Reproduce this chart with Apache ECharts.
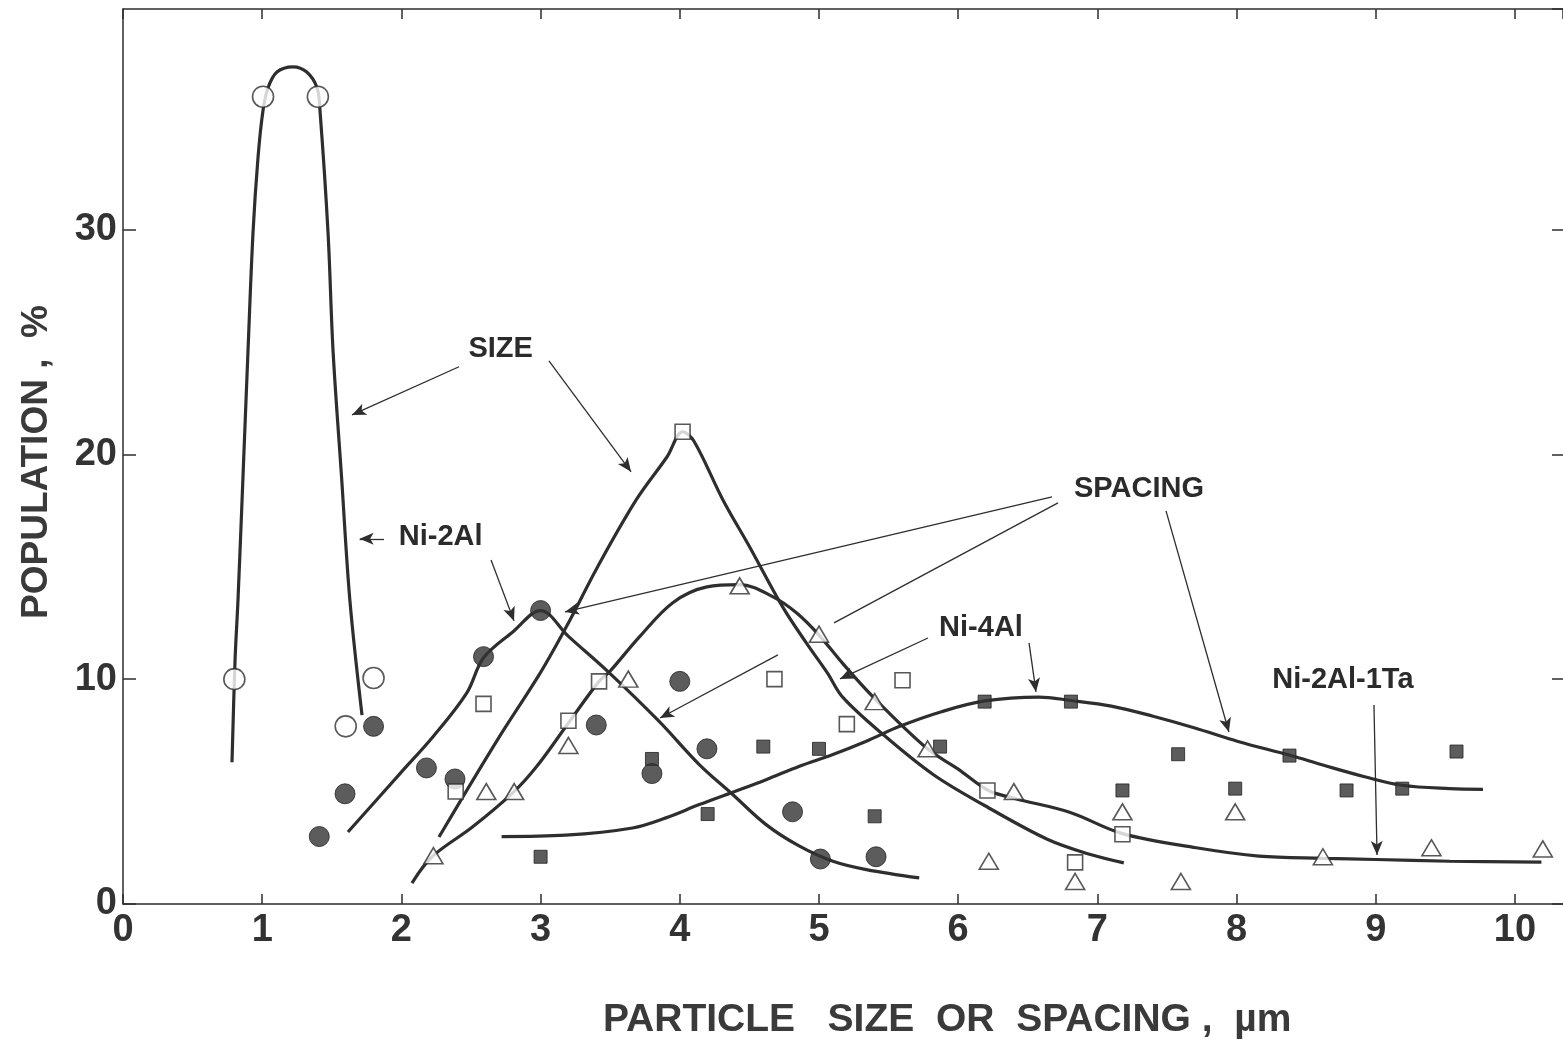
<!DOCTYPE html>
<html>
<head>
<meta charset="utf-8">
<title>Particle size or spacing</title>
<script src="https://cdn.jsdelivr.net/npm/echarts@6/dist/echarts.min.js"></script>
<style>
  html, body { margin: 0; padding: 0; background: #fff; }
  #chart { width: 1563px; height: 1048px; }
</style>
</head>
<body>
<div id="chart"></div>
<script>
// ---- data: [size or spacing (um), population (%)] ----
const openCircles = [[0.80, 10.0], [1.006, 35.9], [1.40, 35.9], [1.60, 7.9], [1.80, 10.05]];
const filledCircles = [[1.41, 3.0], [1.595, 4.9], [1.80, 7.9], [2.18, 6.05], [2.385, 5.56], [2.59, 11.0],
  [3.0, 13.05], [3.40, 7.96], [3.80, 5.8], [4.0, 9.9], [4.195, 6.9], [4.81, 4.1], [5.01, 2.0], [5.41, 2.1]];
const openSquares = [[2.39, 5.0], [2.59, 8.9], [3.2, 8.15], [3.42, 9.9], [4.02, 21.0], [4.68, 10.0],
  [5.2, 8.0], [5.6, 9.95], [6.21, 5.05], [6.84, 1.85], [7.18, 3.1]];
const filledSquares = [[3.0, 2.1], [3.8, 6.45], [4.2, 4.0], [4.6, 7.0], [5.0, 6.9], [5.4, 3.9], [5.87, 7.0],
  [6.19, 9.0], [6.81, 9.0], [7.18, 5.05], [7.58, 6.66], [7.99, 5.13], [8.38, 6.6], [8.79, 5.05], [9.19, 5.13], [9.58, 6.78]];
const openTriangles = [[2.23, 2.15], [2.61, 5.0], [2.81, 5.0], [3.2, 7.05], [3.63, 10.0], [4.43, 14.15],
  [5.0, 12.0], [5.4, 9.0], [5.78, 6.9], [6.22, 1.9], [6.4, 5.0], [6.84, 1.0], [7.18, 4.1], [7.6, 1.0],
  [7.99, 4.1], [8.62, 2.1], [9.4, 2.5], [10.2, 2.45]];

// hand drawn fitted curves, traced point by point
const curveOpenCircle = [[0.783, 6.3], [0.805, 10.85], [0.826, 13.5], [0.862, 19.0], [0.898, 24.6], [0.934, 29.85],
  [0.97, 33.2], [1.006, 35.3], [1.042, 36.3], [1.106, 37.0], [1.221, 37.23], [1.32, 37.0], [1.394, 36.3],
  [1.415, 35.3], [1.473, 29.85], [1.509, 24.6], [1.57, 19.0], [1.63, 13.5], [1.717, 8.4]];
const curveFilledCircle = [[1.616, 3.2], [1.99, 5.8], [2.23, 7.46], [2.47, 9.39], [2.59, 10.95], [2.8, 12.1],
  [3.0, 13.05], [3.2, 11.9], [3.49, 10.3], [3.85, 8.13], [4.14, 6.2], [4.38, 4.87], [4.62, 3.53],
  [4.86, 2.57], [5.1, 1.9], [5.34, 1.53], [5.72, 1.16]];
const curveOpenSquare = [[2.27, 2.98], [2.69, 7.3], [3.0, 10.3], [3.2, 12.5], [3.41, 15.0], [3.69, 18.0],
  [3.91, 19.9], [4.02, 21.0], [4.1, 20.6], [4.31, 17.97], [4.5, 15.9], [4.74, 13.2], [4.91, 11.6],
  [5.06, 10.28], [5.17, 9.2], [5.46, 7.54], [5.82, 5.76], [6.19, 4.38], [6.64, 2.88], [6.95, 2.2], [7.19, 1.83]];
const curveTriangle = [[2.076, 0.93], [2.22, 2.1], [2.51, 3.42], [2.80, 4.94], [2.97, 6.1], [3.2, 8.05],
  [3.42, 9.9], [3.5, 10.36], [3.71, 11.88], [3.95, 13.4], [4.195, 14.1], [4.43, 14.2], [4.67, 13.66],
  [4.84, 12.94], [5.0, 11.96], [5.17, 10.7], [5.39, 9.2], [5.78, 6.9], [6.0, 6.0], [6.21, 5.07],
  [6.4, 4.7], [6.8, 4.08], [7.18, 3.13], [7.71, 2.5], [8.16, 2.13], [8.62, 2.03], [9.0, 1.98],
  [9.53, 1.9], [10.19, 1.86]];
const curveFilledSquare = [[2.72, 3.0], [3.18, 3.06], [3.66, 3.38], [3.9, 3.83], [4.14, 4.42], [4.38, 4.97],
  [4.62, 5.53], [4.86, 6.13], [5.1, 6.65], [5.34, 7.24], [5.58, 7.9], [5.88, 8.55], [6.19, 9.03],
  [6.58, 9.2], [6.81, 9.05], [7.1, 8.8], [7.4, 8.35], [7.7, 7.83], [8.01, 7.23], [8.39, 6.6],
  [8.62, 6.18], [8.92, 5.66], [9.19, 5.28], [9.53, 5.13], [9.77, 5.1]];

// annotations, in data coordinates
const noteTexts = [
  { text: 'SIZE', at: [2.713, 24.69] },
  { text: 'Ni-2Al', at: [2.282, 16.34] },
  { text: 'SPACING', at: [7.299, 18.46] },
  { text: 'Ni-4Al', at: [6.164, 12.28] },
  { text: 'Ni-2Al-1Ta', at: [8.764, 9.96] }
];
const noteArrows = [
  { from: [2.414, 23.89], to: [1.645, 21.75], head: true },
  { from: [3.06, 24.15], to: [3.65, 19.22], head: true },
  { from: [1.875, 16.24], to: [1.70, 16.24], head: true },
  { from: [2.644, 15.30], to: [2.809, 12.59], head: true },
  { from: [6.674, 18.10], to: [3.175, 12.99], head: true },
  { from: [6.717, 17.84], to: [5.108, 12.50], head: false },
  { from: [4.705, 11.08], to: [3.858, 8.27], head: true },
  { from: [7.493, 17.48], to: [7.945, 7.65], head: true },
  { from: [5.783, 11.83], to: [5.151, 10.01], head: true },
  { from: [6.509, 11.61], to: [6.559, 9.43], head: true },
  { from: [8.987, 8.85], to: [9.009, 2.18], head: true }
];

const FONT = '"Liberation Sans", Arial, sans-serif';
const INK = '#2e2e2e';

const chart = echarts.init(document.getElementById('chart'));

const curve = (data, extra) => Object.assign({
  type: 'line',
  data: data,
  smooth: 0.35,
  showSymbol: false,
  symbol: 'none',
  lineStyle: { color: INK, width: 3.2 },
  z: 2,
  silent: true
}, extra || {});

const markers = (data, symbol, size, filled) => ({
  type: 'scatter',
  data: data,
  symbol: symbol,
  symbolSize: size,
  itemStyle: filled
    ? { color: '#333', borderColor: '#222', borderWidth: 1 }
    : { color: '#fff', borderColor: INK, borderWidth: 1.6 },
  z: 5,
  silent: true
});

const frameLine = { show: true, onZero: false, lineStyle: { color: INK, width: 1.5 } };

const option = {
  animation: false,
  backgroundColor: '#fff',
  // the right edge of the frame sits just at the edge of the picture
  grid: { left: 123, top: 9, right: 0, height: 895 },
  xAxis: [
    {
      type: 'value', min: 0, max: 10.345, interval: 1,
      axisLine: frameLine,
      axisTick: { inside: true, length: 10, lineStyle: { color: INK, width: 1.5 } },
      splitLine: { show: false },
      axisLabel: {
        showMaxLabel: false, margin: 8,
        fontFamily: FONT, fontWeight: 'bold', fontSize: 38, color: '#333'
      }
    },
    {
      type: 'value', position: 'top', min: 0, max: 10.345, interval: 1,
      axisLine: frameLine,
      axisTick: { inside: true, length: 10, lineStyle: { color: INK, width: 1.5 } },
      splitLine: { show: false },
      axisLabel: { show: false }
    }
  ],
  yAxis: [
    {
      type: 'value', min: 0, max: 39.8, interval: 10,
      axisLine: frameLine,
      axisTick: { show: true, inside: true, length: 13, lineStyle: { color: INK, width: 1.5 } },
      splitLine: { show: false },
      axisLabel: {
        showMaxLabel: false, margin: 6,
        fontFamily: FONT, fontWeight: 'bold', fontSize: 38, color: '#333'
      }
    },
    {
      type: 'value', position: 'right', min: 0, max: 39.8, interval: 10,
      axisLine: { show: false, onZero: false },
      axisTick: { show: true, inside: true, length: 11, lineStyle: { color: INK, width: 1.5 } },
      splitLine: { show: false },
      axisLabel: { show: false }
    }
  ],
  series: [
    curve(curveOpenCircle),
    curve(curveFilledCircle),
    curve(curveOpenSquare),
    curve(curveTriangle),
    curve(curveFilledSquare, {
      markLine: {
        silent: true,
        animation: false,
        symbolSize: [9, 14],
        label: { show: false },
        lineStyle: { color: INK, width: 1.3, type: 'solid' },
        emphasis: { disabled: true },
        data: noteArrows.map(a => [
          { coord: a.from, symbol: 'none' },
          { coord: a.to, symbol: a.head ? 'arrow' : 'none' }
        ])
      }
    }),
    markers(filledSquares, 'rect', 13, true),
    markers(filledCircles, 'circle', 20, true),
    markers(openCircles, 'circle', 21, false),
    markers(openSquares, 'rect', 15, false),
    markers(openTriangles, 'triangle', [19, 16], false)
  ]
};

chart.setOption(option);

// text notes and axis titles
const px = p => chart.convertToPixel({ gridIndex: 0 }, p);
const graphics = noteTexts.map(n => {
  const p = px(n.at);
  return {
    type: 'text', x: p[0], y: p[1], silent: true, z: 10,
    style: {
      text: n.text, fill: '#2b2b2b',
      font: 'bold 29px ' + FONT,
      textAlign: 'center', textVerticalAlign: 'middle',
      align: 'center', verticalAlign: 'middle'
    }
  };
});
graphics.push({
  type: 'text', x: 37, y: 462, rotation: Math.PI / 2, silent: true,
  style: {
    text: 'POPULATION ,  %', fill: '#3a3a3a',
    font: 'bold 37px ' + FONT,
    textAlign: 'center', textVerticalAlign: 'middle',
    align: 'center', verticalAlign: 'middle'
  }
});
graphics.push({
  type: 'text', x: 603, y: 1020, silent: true,
  style: {
    text: 'PARTICLE   SIZE  OR  SPACING ,  µm', fill: '#3a3a3a',
    font: 'bold 39px ' + FONT,
    textAlign: 'left', textVerticalAlign: 'middle',
    align: 'left', verticalAlign: 'middle'
  }
});
chart.setOption({ graphic: graphics });
</script>
</body>
</html>
